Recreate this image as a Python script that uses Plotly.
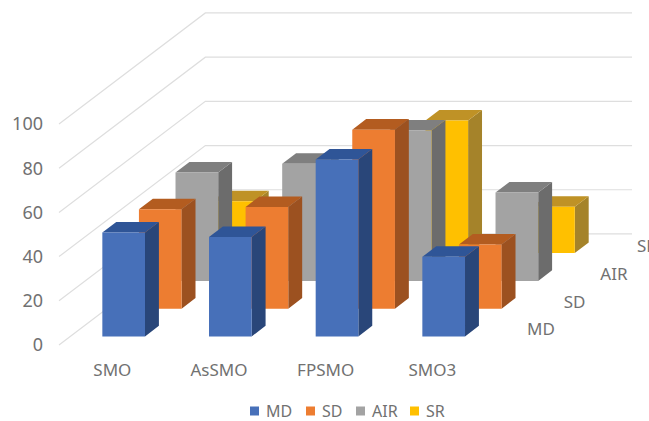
import plotly.graph_objects as go

# Chart data
categories = ["SMO", "AsSMO", "FPSMO", "SMO3"]
series_names = ["MD", "SD", "AIR", "SR"]
md_values = [47, 45, 80, 36]
sd_values = [45, 46, 81, 29]
air_values = [49, 53, 68, 40]
sr_values = [23.5, 30, 60, 21]
value_ticks = [0, 20, 40, 60, 80, 100]

series_values = [md_values, sd_values, air_values, sr_values]

# Face colours per series
front_colors = ["#4770B9", "#ED7D31", "#A3A3A3", "#FFC000"]
side_colors = ["#294679", "#9C5120", "#6C6C6C", "#A5832A"]
top_colors = ["#2F5597", "#B35C20", "#7F7F7F", "#BF9226"]
GRID = "#DEDEDE"
TEXT = "#717171"
FONT = "Noto Sans"

# Page and plot-area layout in pixels
WIDTH, HEIGHT = 649, 421
LEFT, BOTTOM = 44, 63
PLOT_H = HEIGHT - BOTTOM
ORIGIN_X, ORIGIN_Y = 59, 345
PX_PER_CAT, PX_PER_VALUE = 106.67, 2.21

# Oblique projection: one series step of depth moves a point this far
DEPTH_X = 0.343   # in category units
DEPTH_Y = 12.56   # in value units
BAR_HALF = 0.2
DEPTH_LO, DEPTH_HI = 0.31, 0.69


def project(c, v, d):
    return c + d * DEPTH_X, v + d * DEPTH_Y


def polygons(quads):
    xs, ys = [], []
    for quad in quads:
        pts = [project(*p) for p in quad]
        pts.append(pts[0])
        xs += [p[0] for p in pts] + [None]
        ys += [p[1] for p in pts] + [None]
    return xs, ys


def face_trace(quads, color, name):
    xs, ys = polygons(quads)
    return go.Scatter(x=xs, y=ys, mode="lines", fill="toself", fillcolor=color,
                      line=dict(width=0, color=color), hoverinfo="skip",
                      name=name, showlegend=False)


fig = go.Figure()

# Side wall and back wall gridlines
depth_total = len(series_names)
cat_total = len(categories)
grid_x, grid_y = [], []
for v in value_ticks:
    pts = [project(0, v, 0), project(0, v, depth_total), project(cat_total, v, depth_total)]
    grid_x += [p[0] for p in pts] + [None]
    grid_y += [p[1] for p in pts] + [None]
fig.add_trace(go.Scatter(x=grid_x, y=grid_y, mode="lines",
                         line=dict(color=GRID, width=1.2), hoverinfo="skip",
                         showlegend=False))

# Bars, painted from the rearmost series to the front one
for s in reversed(range(len(series_names))):
    side, top, front = [], [], []
    d0, d1 = s + DEPTH_LO, s + DEPTH_HI
    for i, v in enumerate(series_values[s]):
        c0, c1 = i + 0.5 - BAR_HALF, i + 0.5 + BAR_HALF
        side.append([(c1, 0, d0), (c1, 0, d1), (c1, v, d1), (c1, v, d0)])
        top.append([(c0, v, d0), (c1, v, d0), (c1, v, d1), (c0, v, d1)])
        front.append([(c0, 0, d0), (c1, 0, d0), (c1, v, d0), (c0, v, d0)])
    fig.add_trace(face_trace(side, side_colors[s], series_names[s]))
    fig.add_trace(face_trace(top, top_colors[s], series_names[s]))
    fig.add_trace(face_trace(front, front_colors[s], series_names[s]))

# Depth axis labels along the right-hand floor edge
label_pts = [project(4.217, 0, s + 0.5) for s in range(len(series_names))]
fig.add_trace(go.Scatter(x=[p[0] for p in label_pts], y=[p[1] for p in label_pts],
                         mode="text", text=series_names, textposition="middle right",
                         textfont=dict(family=FONT, size=17, color=TEXT),
                         hoverinfo="skip", showlegend=False, cliponaxis=False))

# Legend row below the plot, laid out in page pixels
plot_w = WIDTH - LEFT
legend_keys = [250, 306, 356, 410]
legend_y = 411
shapes, annotations = [], []
for key_x, name, color in zip(legend_keys, series_names, front_colors):
    shapes.append(dict(type="rect", xref="paper", yref="paper", line_width=0, fillcolor=color,
                       x0=(key_x - LEFT) / plot_w, x1=(key_x + 9 - LEFT) / plot_w,
                       y0=1 - (legend_y - 4.5) / PLOT_H, y1=1 - (legend_y + 4.5) / PLOT_H))
    annotations.append(dict(text=name, xref="paper", yref="paper", showarrow=False,
                            x=(key_x + 15 - LEFT) / plot_w, y=1 - legend_y / PLOT_H,
                            xanchor="left", yanchor="middle", borderpad=0,
                            font=dict(family=FONT, size=16, color=TEXT)))

fig.update_layout(
    width=WIDTH, height=HEIGHT,
    margin=dict(l=LEFT, r=0, t=0, b=BOTTOM),
    paper_bgcolor="white", plot_bgcolor="white",
    font=dict(family=FONT, size=17, color=TEXT),
    showlegend=False,
    shapes=shapes, annotations=annotations,
    xaxis=dict(range=[(LEFT - ORIGIN_X) / PX_PER_CAT, (WIDTH - ORIGIN_X) / PX_PER_CAT],
               showgrid=False, zeroline=False, showline=False, tickmode="array",
               tickvals=[i + 0.5 for i in range(cat_total)], ticktext=categories,
               ticklen=0, tickfont=dict(family=FONT, size=17, color=TEXT)),
    yaxis=dict(range=[-(PLOT_H - ORIGIN_Y) / PX_PER_VALUE, ORIGIN_Y / PX_PER_VALUE],
               showgrid=False, zeroline=False, showline=False, tickmode="array",
               tickvals=value_ticks, ticktext=[str(v) for v in value_ticks],
               ticklen=0, tickfont=dict(family=FONT, size=18, color=TEXT)),
)

fig.write_html("out.html")
